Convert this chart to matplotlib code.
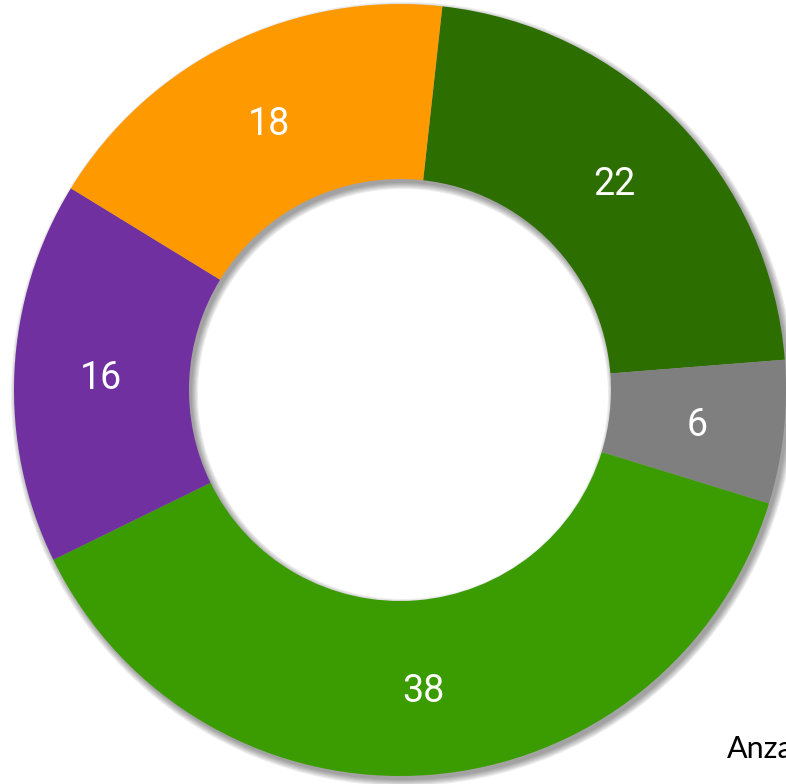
import matplotlib
matplotlib.use("Agg")
import matplotlib.pyplot as plt
import matplotlib.transforms as mtransforms
from matplotlib.patches import Wedge

# slice values, clockwise from the top
values = [22, 6, 38, 16, 18]
colors = ["#2D6E00", "#7F7F7F", "#3A9C00", "#7030A0", "#FF9900"]
legend_text = "Anzahl"

W, H = 786, 784
cx, cy = 400, H - 390
r_out, r_in = 386, 211

fig = plt.figure(figsize=(W / 100, H / 100), dpi=100)
ax = fig.add_axes([0, 0, 1, 1])
ax.set_xlim(0, W)
ax.set_ylim(0, H)
ax.set_aspect("equal")
ax.axis("off")

# soft drop shadow, shifted down-right, built from a few faint rings
for k in range(6):
    grow = k * 1.2
    sh = Wedge((cx + 3, cy - 4), r_out + grow, 0, 360, width=r_out - r_in + 2 * grow,
               facecolor="black", edgecolor="none", alpha=0.07)
    ax.add_patch(sh)

wedges, texts, autotexts = ax.pie(
    values, colors=colors, startangle=83.7, counterclock=False,
    center=(cx, cy), radius=r_out, frame=True,
    wedgeprops=dict(width=r_out - r_in, edgecolor="none"),
    autopct=lambda p: f"{p:.0f}", pctdistance=299 / r_out,
    textprops=dict(color="white", fontsize=27, family="Roboto"))
# nudge the numbers down a little so the digits sit centred in the ring
shift = mtransforms.offset_copy(ax.transData, fig=fig, x=0, y=-3, units="dots")
for t in autotexts:
    t.set_transform(shift)

ax.set_xlim(0, W)
ax.set_ylim(0, H)
ax.axis("off")

fig.text(727 / W, 1 - 758 / H, legend_text, fontsize=22, family="Lato",
         color="black", va="baseline", ha="left")

fig.savefig("out.png", dpi=100)
